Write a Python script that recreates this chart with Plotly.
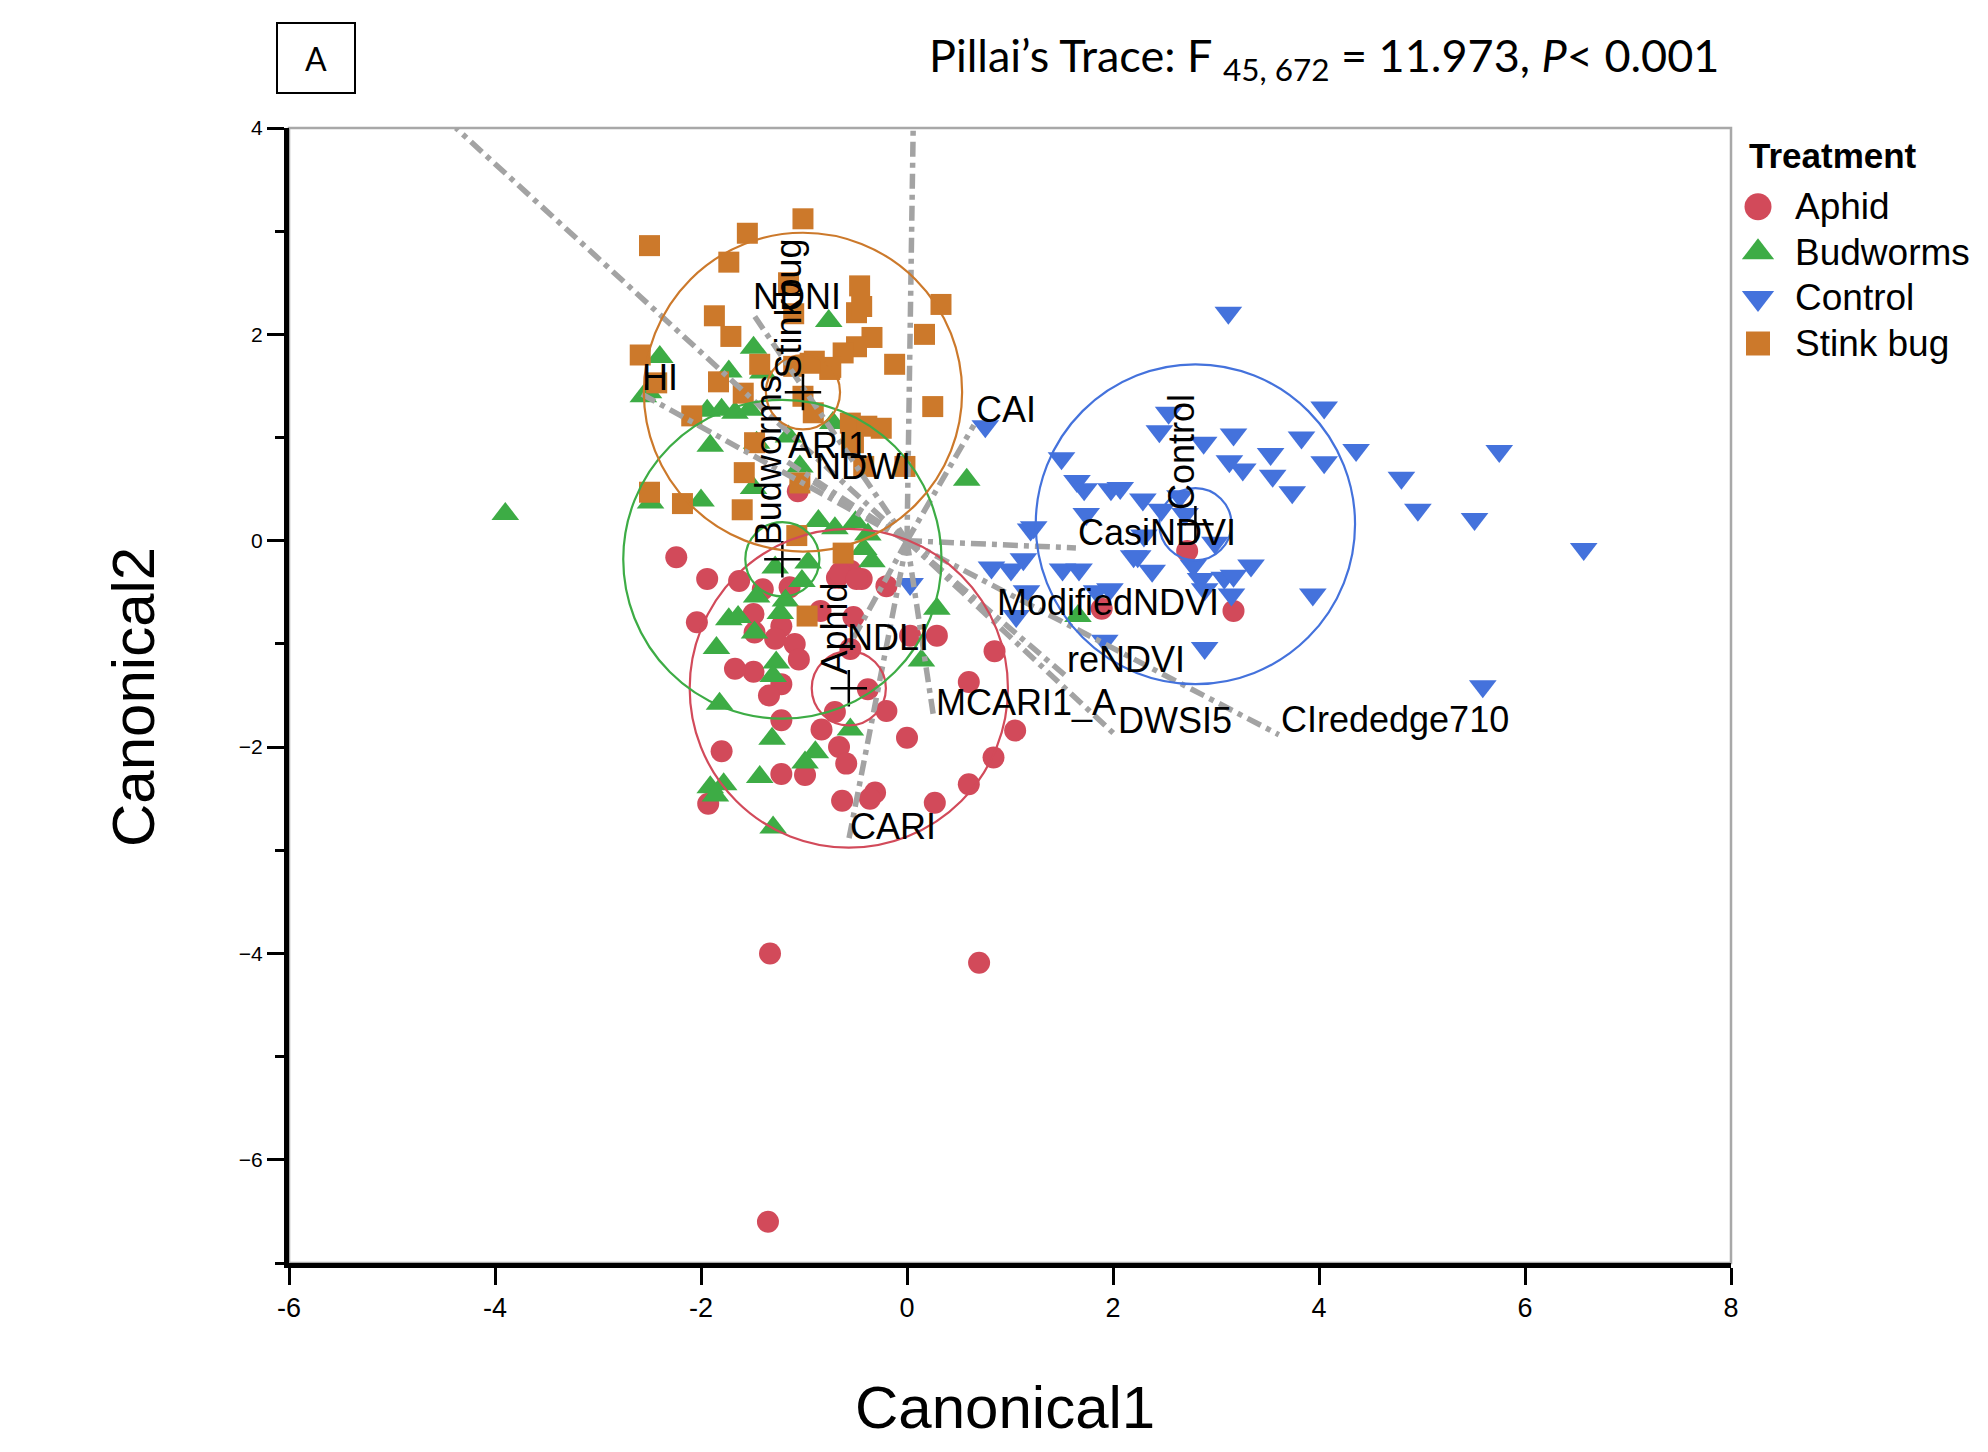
import plotly.graph_objects as go

# ---------------- data ----------------
groups = ["Aphid", "Budworms", "Control", "Stink bug"]
group_labels = ["Aphid", "Budworms", "Control", "Stinkbug"]
colors = ["#d24a5a", "#3dac45", "#4472dc", "#cc792b"]
symbols = ["circle", "triangle-up", "triangle-down", "square"]

aphid_x = [-1.35, -1.33, 0.70, -2.24, -1.94, -1.63, -1.40, -1.14, -2.04, -1.49, -1.48, -1.22, -1.28,
           -1.09, -1.05, -1.49, -1.22, -1.34, -1.22, -1.80, -1.22, -0.99, -1.93, -0.68, -0.55, -0.44,
           -0.20, -0.84, -0.52, -0.55, 0.03, 0.29, 0.85, 0.60, -0.38, -0.20, -0.70, -0.83, -0.66, -0.59,
           0.00, 1.05, 0.84, 0.60, 0.27, -0.31, -0.36, -0.63, -1.06, 2.72, 3.17, 1.89, -0.65, -0.49, -1.67]
aphid_y = [-6.60, -4.00, -4.09, -0.16, -0.37, -0.39, -0.47, -0.45, -0.79, -0.71, -0.89, -0.83, -0.95,
           -1.00, -1.15, -1.27, -1.39, -1.50, -1.74, -2.04, -2.26, -2.27, -2.55, -0.36, -0.29, -0.37,
           -0.44, -0.68, -0.74, -1.05, -0.92, -0.92, -1.07, -1.37, -1.44, -1.65, -1.66, -1.83, -2.00, -2.16,
           -1.91, -1.84, -2.10, -2.36, -2.54, -2.44, -2.50, -2.52, 0.48, -0.10, -0.68, -0.66, -0.31, -0.37, -1.24]

budworms_x = [-3.90, -2.40, -2.56, -1.49, -0.76, -1.73, -1.40, -1.94, -1.80, -1.67, -1.53, -1.91, -1.46,
              -1.15, -0.72, -2.49, -2.00, -1.49, -1.04, 0.58, -0.86, -0.70, -0.50, -0.38, -0.42, -0.34,
              -1.28, -0.96, -1.02, -1.46, -1.18, -1.73, -1.64, -1.48, -1.23, -1.85, -1.27, -1.30, 0.29,
              0.14, -1.82, -1.31, -0.55, -0.89, -0.99, -1.43, -1.91, -1.78, -1.86, -1.30, 1.66, -2.51]
budworms_y = [0.26, 1.78, 1.40, 1.87, 2.13, 1.64, 1.63, 1.26, 1.27, 1.24, 1.27, 0.92, 0.95,
              1.01, 1.14, 0.37, 0.39, 0.51, 0.72, 0.59, 0.19, 0.12, 0.18, 0.06, -0.08, -0.20,
              -0.26, -0.21, -0.39, -0.54, -0.58, -0.76, -0.74, -0.89, -0.70, -1.04, -1.18, -1.31, -0.66,
              -1.16, -1.58, -1.92, -1.83, -2.05, -2.15, -2.29, -2.39, -2.36, -2.47, -2.78, -0.73, 1.44]

control_x = [3.12, 4.05, 2.54, 2.45, 3.17, 2.88, 3.83, 4.36, 5.75, 3.53, 4.05, 3.13, 3.26, 3.55, 1.50,
             4.80, 3.74, 1.65, 1.72, 1.98, 2.07, 2.29, 4.96, 5.51, 1.74, 2.47, 2.65, 1.20, 2.70, 2.30,
             2.99, 2.24, 1.13, 1.01, 1.51, 1.67, 2.38, 2.78, 3.34, 2.85, 3.08, 3.17, 2.89, 1.16, 1.84,
             1.97, 3.15, 3.94, 1.06, 1.92, 2.89, 5.59, 6.57, 0.76, 0.03, 0.82, 1.23, 2.20]
control_y = [2.21, 1.29, 1.24, 1.06, 1.03, 0.95, 1.00, 0.88, 0.87, 0.84, 0.76, 0.77, 0.69, 0.63, 0.80,
             0.61, 0.47, 0.58, 0.50, 0.50, 0.51, 0.40, 0.30, 0.21, 0.26, 0.30, 0.43, 0.11, 0.26, 0.05,
             -0.02, -0.15, -0.18, -0.28, -0.28, -0.28, -0.29, -0.24, -0.24, -0.37, -0.36, -0.34, -0.47, -0.49, -0.49,
             -0.47, -0.52, -0.52, -0.73, -0.97, -1.04, -1.41, -0.08, 1.11, -0.42, -0.26, 0.13, -0.15]

stinkbug_x = [-1.01, -1.55, -2.50, -1.73, -0.46, -0.49, -0.44, 0.33, -1.87, -1.71, 0.17, -0.34, -0.49,
              -0.62, -2.59, -0.12, -1.43, -0.75, -0.94, -1.10, -1.83, -2.43, -1.59, -1.01, -2.09, -0.91,
              0.25, -0.55, -0.39, -0.25, -1.48, -0.52, -0.02, -0.42, -1.58, -2.50, -2.18, -1.60, -1.04,
              -1.07, -0.62, -0.97, -1.15, -1.10, -0.90, -0.74]
stinkbug_y = [3.12, 2.98, 2.86, 2.70, 2.47, 2.21, 2.27, 2.29, 2.18, 1.98, 2.00, 1.97, 1.88,
              1.82, 1.80, 1.71, 1.71, 1.66, 1.72, 1.69, 1.54, 1.53, 1.43, 1.40, 1.21, 1.24,
              1.30, 1.14, 1.11, 1.09, 0.95, 0.95, 0.72, 0.72, 0.66, 0.47, 0.36, 0.30, 0.56,
              0.05, -0.12, -0.73, 2.50, 2.20, 1.74, 1.68]

group_x = [aphid_x, budworms_x, control_x, stinkbug_x]
group_y = [aphid_y, budworms_y, control_y, stinkbug_y]

centroid_x = [-0.565, -1.21, 2.80, -1.01]
centroid_y = [-1.43, -0.18, 0.16, 1.44]
outer_r = [1.545, 1.545, 1.55, 1.545]
inner_r = [0.36, 0.36, 0.35, 0.36]

ray_names = ["HI", "NDNI", "CAI", "ARI1", "NDWI", "CasiNDVI", "ModifiedNDVI", "reNDVI",
             "MCARI1_A", "DWSI5", "CIrededge710", "NDLI", "CARI", "", ""]
ray_x = [-2.59, -1.51, 0.65, -1.17, -0.91, 1.64, 0.85, 1.53, 0.26, 2.03, 3.61, -0.60, -0.57, -4.38, 0.06]
ray_y = [1.43, 2.22, 1.12, 0.77, 0.57, -0.07, -0.75, -1.30, -1.72, -1.89, -1.88, -1.09, -2.92, 4.0, 4.0]

x_ticks = [-6, -4, -2, 0, 2, 4, 6, 8]
y_ticks = [-6, -4, -2, 0, 2, 4]

# ---------------- layout geometry ----------------
W, H = 1988, 1452
ML, MR, MT, MB = 289, 40, 128, 189
PW = W - ML - MR
PH = H - MT - MB
MAIN_RIGHT = 1731


def px_x(p):
    return (p - ML) / PW


def px_y(p):
    return (H - MB - p) / PH


FONT = "Liberation Sans, Arial, Helvetica, sans-serif"
TFONT = "Lato, Carlito, Calibri, sans-serif"
marker_sizes = {"circle": 22, "triangle-up": 24, "triangle-down": 24, "square": 21}

fig = go.Figure()

# data markers
for g, xs, ys, c, s in zip(groups, group_x, group_y, colors, symbols):
    fig.add_trace(go.Scatter(
        x=xs, y=ys, mode="markers", name=g, showlegend=False,
        marker=dict(symbol=s, color=c, size=marker_sizes[s], opacity=1, line=dict(width=0)),
    ))

# biplot rays
rx, ry = [], []
for ex, ey in zip(ray_x, ray_y):
    rx += [0, ex, None]
    ry += [0, ey, None]
fig.add_trace(go.Scatter(
    x=rx, y=ry, mode="lines", showlegend=False, hoverinfo="skip",
    line=dict(color="#a3a3a3", width=5.5, dash="15px,6px,5px,6px"),
))

# centroid markers
fig.add_trace(go.Scatter(
    x=centroid_x, y=centroid_y, mode="markers", showlegend=False, hoverinfo="skip",
    marker=dict(symbol="cross-thin", size=26, color="black", line=dict(width=2.5, color="black")),
))

# confidence circles
shapes = []
for cx, cy, ro, ri, c in zip(centroid_x, centroid_y, outer_r, inner_r, colors):
    for r in (ro, ri):
        shapes.append(dict(type="circle", xref="x", yref="y", x0=cx - r, x1=cx + r,
                           y0=cy - r, y1=cy + r, line=dict(color=c, width=2.2), layer="above"))
# gray frame (top / right)
shapes.append(dict(type="rect", xref="x domain", yref="y domain", x0=0, x1=1, y0=0, y1=1,
                   line=dict(color="#a8a8a8", width=2.5), layer="below"))

annotations = []
# ray labels
for name, ex, ey in zip(ray_names, ray_x, ray_y):
    if name:
        annotations.append(dict(x=ex, y=ey, xref="x", yref="y", text=name, showarrow=False,
                                xanchor="left", yanchor="bottom", yshift=-7,
                                font=dict(family=FONT, size=36, color="black")))
# group labels (vertical)
for name, cx, cy in zip(group_labels, centroid_x, centroid_y):
    annotations.append(dict(x=cx, y=cy, xref="x", yref="y", text=name, showarrow=False,
                            textangle=-90, xanchor="right", yanchor="bottom", xshift=8, yshift=12,
                            font=dict(family=FONT, size=36, color="black")))

# title & panel letter
annotations.append(dict(x=px_x(1721), y=px_y(58), xref="paper", yref="paper", showarrow=False,
                        xanchor="right", yanchor="middle",
                        text="Pillai’s Trace: F <sub>45, 672</sub> = 11.973, <i>P</i>< 0.001",
                        font=dict(family=TFONT, size=45, color="black")))
annotations.append(dict(x=px_x(316), y=px_y(58), xref="paper", yref="paper", showarrow=False,
                        xanchor="center", yanchor="middle", text="A", width=76, height=68,
                        bordercolor="black", borderwidth=2, borderpad=0,
                        font=dict(family=TFONT, size=32, color="black")))
# axis titles
annotations.append(dict(x=px_x(1005), y=px_y(1407), xref="paper", yref="paper", showarrow=False,
                        xanchor="center", yanchor="middle", text="Canonical1",
                        font=dict(family=FONT, size=60, color="black")))
annotations.append(dict(x=px_x(133), y=px_y(697), xref="paper", yref="paper", showarrow=False,
                        xanchor="center", yanchor="middle", text="Canonical2", textangle=-90,
                        font=dict(family=FONT, size=60, color="black")))

# manual legend
annotations.append(dict(x=px_x(1747), y=px_y(155), xref="paper", yref="paper", showarrow=False,
                        xanchor="left", yanchor="middle", text="<b>Treatment</b>",
                        font=dict(family=FONT, size=35, color="black")))
leg_idx = list(range(len(groups)))
fig.add_trace(go.Scatter(
    x=[0] * len(groups), y=leg_idx, xaxis="x2", yaxis="y2", mode="markers",
    showlegend=False, hoverinfo="skip", cliponaxis=False,
    marker=dict(symbol=symbols, color=colors, size=[27, 28, 28, 24], opacity=1, line=dict(width=0)),
))
for i, g in zip(leg_idx, groups):
    annotations.append(dict(x=0, y=i, xref="x2", yref="y2", text=g, showarrow=False,
                            xanchor="left", yanchor="middle", xshift=35,
                            font=dict(family=FONT, size=37, color="black")))

# legend axes mapping: row i at pixel 206.7 + 45.6*i, marker x at pixel 1758
row0, row_step = 206.7, 45.6
n = len(groups)
y2_top = px_y(row0 - row_step / 2)
y2_bot = px_y(row0 + row_step * (n - 0.5))
x2_left, x2_right = px_x(1740), px_x(1940)
frac = (1758 - 1740) / (1940 - 1740)

main_dom = [0, px_x(MAIN_RIGHT)]

fig.update_layout(
    width=W, height=H,
    margin=dict(l=ML, r=MR, t=MT, b=MB),
    paper_bgcolor="white", plot_bgcolor="white",
    showlegend=False,
    shapes=shapes, annotations=annotations,
    xaxis=dict(domain=main_dom, range=[-6, 8], tickvals=x_ticks,
               ticktext=[str(v) for v in x_ticks],
               ticks="outside", ticklen=17, tickwidth=3, tickcolor="black",
               showline=True, linecolor="black", linewidth=5, showgrid=False, zeroline=False,
               tickfont=dict(family=FONT, size=27, color="black")),
    yaxis=dict(domain=[0, 1], range=[-7, 4], tickvals=y_ticks,
               ticks="outside", ticklen=17, tickwidth=3, tickcolor="black",
               minor=dict(dtick=1, tick0=0, ticks="outside", ticklen=9, tickwidth=3, tickcolor="black"),
               showline=True, linecolor="black", linewidth=5, showgrid=False, zeroline=False,
               tickfont=dict(family=FONT, size=21, color="black")),
    xaxis2=dict(domain=[x2_left, x2_right], range=[-frac, 1 - frac], visible=False,
                anchor="y2", fixedrange=True),
    yaxis2=dict(domain=[y2_bot, y2_top], range=[n - 0.5, -0.5], visible=False,
                anchor="x2", fixedrange=True),
)

fig.write_html("out.html")
